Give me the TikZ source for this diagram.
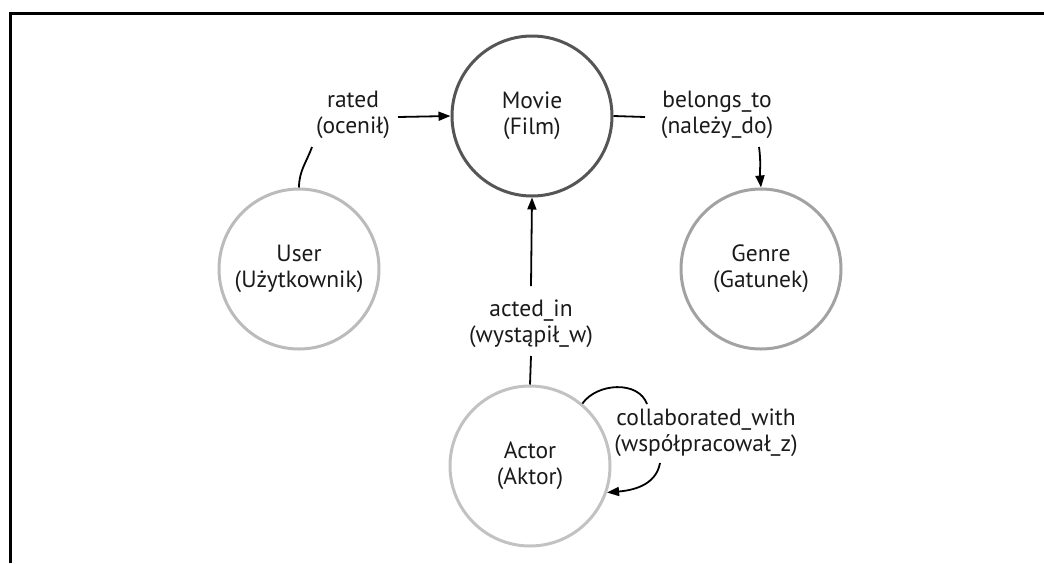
\documentclass[tikz,border=0pt]{standalone}
\usepackage{fontspec}
\setmainfont{PT Sans}
\usetikzlibrary{arrows.meta}
\definecolor{txt}{HTML}{1A1A1A}
\definecolor{movieclr}{HTML}{555555}
\definecolor{userclr}{HTML}{BBBBBB}
\definecolor{genreclr}{HTML}{A2A2A2}
\definecolor{actorclr}{HTML}{C2C2C2}
\begin{document}
\begin{tikzpicture}[x=1pt,y=-1pt,
  entity/.style={circle,draw,line width=3pt,minimum size=160pt,inner sep=0pt,
    align=center,text=txt,font=\fontsize{23.5}{26}\selectfont},
  rel/.style={align=center,text=txt,inner sep=0pt,font=\fontsize{23.5}{26}\selectfont},
  conn/.style={draw=black,line width=1.8pt},
  arr/.style={conn,-{Triangle[length=12pt,width=9pt]}}]
\useasboundingbox (0,0) rectangle (1044,563);

% frame
\draw[line width=3pt] (10.5,563) -- (10.5,13.5) -- (1044,13.5);

% entities
\node[entity,draw=movieclr] (movie) at (532,116) {Movie\\(Film)};
\node[entity,draw=userclr]  (user)  at (299,269) {User\\(Użytkownik)};
\node[entity,draw=genreclr] (genre) at (761,269) {Genre\\(Gatunek)};
\node[entity,draw=actorclr] (actor) at (530,466) {Actor\\(Aktor)};

% relationship labels
\node[rel] (rated)   at (353,115) {rated\\(ocenił)};
\node[rel] (belongs) at (717,115) {belongs\_to\\(należy\_do)};
\node[rel] (acted)   at (531,324) {acted\_in\\(wystąpił\_w)};
\node[rel] (collab)  at (706,433) {collaborated\_with\\(współpracował\_z)};

% connector break points around the labels
\coordinate (r1) at (312,147);
\coordinate (r2) at (398,117);
\coordinate (b1) at (645,117);
\coordinate (b2) at (759,147);
\coordinate (a1) at (531,356);
\coordinate (a2) at (531,286);
\coordinate (c1) at (647,404);
\coordinate (c2) at (660,463);

% rated
\draw[conn] (user.north) to[out=90,in=-110] (r1);
\draw[arr] (r2) -- (movie.west);
% belongs_to
\draw[conn] (movie.east) -- (b1);
\draw[arr] (b2) to[out=-82,in=95] (genre.north);
% acted_in
\draw[conn] (actor.north) -- (a1);
\draw[arr] (a2) -- (movie.south);
% collaborated_with (self loop)
\draw[conn] (actor.50) to[out=55,in=110] (c1);
\draw[arr] (c2) to[out=-100,in=5] (actor.-19);
\end{tikzpicture}
\end{document}
